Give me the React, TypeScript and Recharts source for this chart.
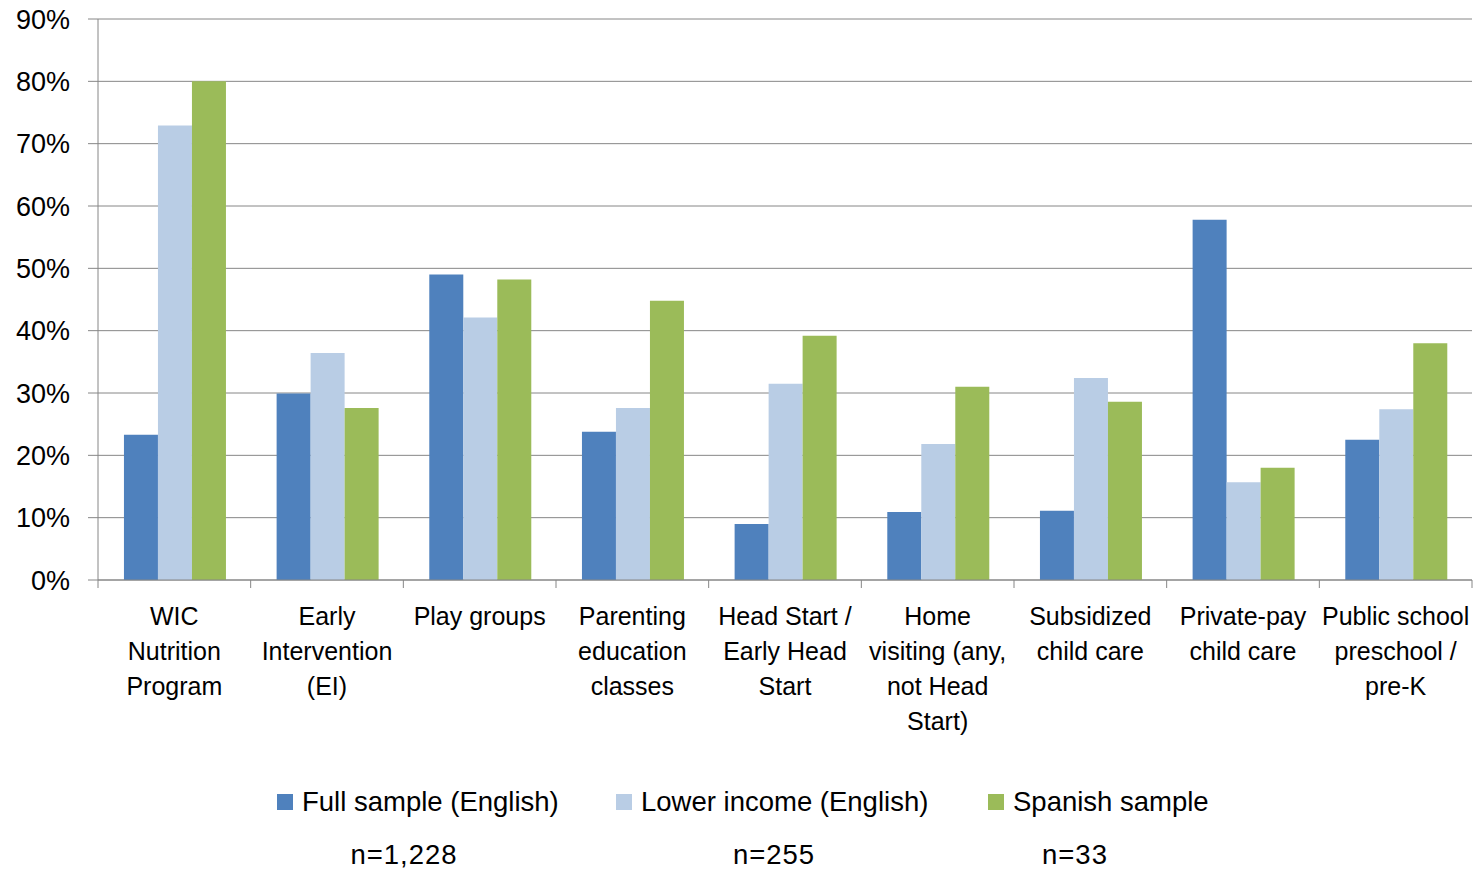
import { BarChart, Bar, XAxis, YAxis, CartesianGrid } from 'recharts'

const categories = [
  ['WIC', 'Nutrition', 'Program'],
  ['Early', 'Intervention', '(EI)'],
  ['Play groups'],
  ['Parenting', 'education', 'classes'],
  ['Head Start /', 'Early Head', 'Start'],
  ['Home', 'visiting (any,', 'not Head', 'Start)'],
  ['Subsidized', 'child care'],
  ['Private-pay', 'child care'],
  ['Public school', 'preschool /', 'pre-K'],
]

const fullSample = [23.3, 29.9, 49.0, 23.8, 9.0, 10.9, 11.1, 57.8, 22.5]
const lowerIncome = [72.9, 36.4, 42.1, 27.6, 31.5, 21.8, 32.4, 15.7, 27.4]
const spanishSample = [80.0, 27.6, 48.2, 44.8, 39.2, 31.0, 28.6, 18.0, 38.0]

const yTicks = [0, 10, 20, 30, 40, 50, 60, 70, 80, 90]

const seriesNames = ['Full sample (English)', 'Lower income (English)', 'Spanish sample']
const sampleSizes = ['n=1,228', 'n=255', 'n=33']
const COLORS = ['#4F81BD', '#B9CDE5', '#9BBB59']

const data = categories.map((lines, i) => ({
  name: lines.join(' '),
  full: fullSample[i],
  lower: lowerIncome[i],
  spanish: spanishSample[i],
}))

const FONT = '"Liberation Sans", Arial, sans-serif'
const AXIS = '#868686'
const W = 1480
const H = 877
const LEFT = 98
const RIGHT = 8
const BAND = (W - LEFT - RIGHT) / categories.length

const CategoryTick = (props: any) => {
  const { x, y, index } = props
  const lines: string[] = categories[index] || []
  return (
    <g>
      <line x1={x - BAND / 2} y1={y} x2={x - BAND / 2} y2={y + 8} stroke={AXIS} />
      {index === categories.length - 1 && (
        <line x1={x + BAND / 2} y1={y} x2={x + BAND / 2} y2={y + 8} stroke={AXIS} />
      )}
      {lines.map((t, i) => (
        <text
          key={i}
          x={x}
          y={y + 36 + i * 35}
          textAnchor="middle"
          dominantBaseline="central"
          fontSize={25}
          fontFamily={FONT}
          fill="#000"
        >
          {t}
        </text>
      ))}
    </g>
  )
}

// legend + sample sizes under the chart
const legendX = [277, 616, 988]
const sizeX = [404, 774, 1075]

const ChartLegend = () => (
  <div style={{ position: 'absolute', left: 0, top: 780, width: W, height: 97, fontFamily: FONT, fontSize: 27.5, color: '#000' }}>
    {seriesNames.map((s, i) => (
      <div key={s} style={{ position: 'absolute', left: legendX[i], top: 6, display: 'flex', alignItems: 'center', whiteSpace: 'nowrap' }}>
        <span style={{ display: 'inline-block', width: 16, height: 16, background: COLORS[i], marginRight: 9 }} />
        <span>{s}</span>
      </div>
    ))}
    {sampleSizes.map((s, i) => (
      <div key={s} style={{ position: 'absolute', left: sizeX[i] - 100, width: 200, top: 59, textAlign: 'center', letterSpacing: 1 }}>
        {s}
      </div>
    ))}
  </div>
)

export default function App() {
  return (
    <div style={{ position: 'absolute', left: 0, top: 0, width: W, height: H, background: '#fff' }}>
      <BarChart
        width={W}
        height={H}
        data={data}
        margin={{ top: 19, right: RIGHT, bottom: 0, left: 0 }}
        barCategoryGap="17%"
        barGap={0}
      >
        <CartesianGrid vertical={false} stroke={AXIS} strokeWidth={1} />
        <XAxis
          dataKey="name"
          height={297}
          interval={0}
          tickLine={false}
          tickSize={0}
          tickMargin={0}
          axisLine={{ stroke: AXIS }}
          tick={<CategoryTick />}
        />
        <YAxis
          width={LEFT}
          domain={[0, 90]}
          ticks={yTicks}
          interval={0}
          tickFormatter={(v: number) => `${v}%`}
          tickSize={10}
          tickMargin={18}
          axisLine={{ stroke: AXIS }}
          tickLine={{ stroke: AXIS }}
          tick={{ fontSize: 27, fontFamily: FONT, fill: '#000' }}
        />
        <Bar dataKey="full" name={seriesNames[0]} fill={COLORS[0]} isAnimationActive={false} />
        <Bar dataKey="lower" name={seriesNames[1]} fill={COLORS[1]} isAnimationActive={false} />
        <Bar dataKey="spanish" name={seriesNames[2]} fill={COLORS[2]} isAnimationActive={false} />
      </BarChart>
      <ChartLegend />
    </div>
  )
}
